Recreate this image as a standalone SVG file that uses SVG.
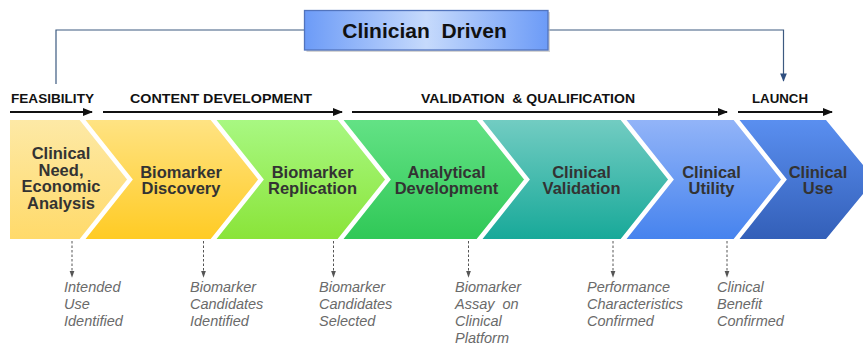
<svg xmlns="http://www.w3.org/2000/svg" width="863" height="346" viewBox="0 0 863 346">
<defs>
<style>
.phase{font-family:"Liberation Sans",Arial,sans-serif;font-weight:bold;font-size:13.5px;fill:#111}
.chev{font-family:"Liberation Sans",Arial,sans-serif;font-weight:bold;font-size:16.5px;fill:#333;text-anchor:middle}
.out{font-family:"Liberation Sans",Arial,sans-serif;font-style:italic;font-size:14.5px;fill:#6a6a6a}
.sep{fill:none;stroke:#fff;stroke-width:4.5;stroke-linejoin:miter}
.bracket{fill:none;stroke:#3d5a80;stroke-width:1.2}
.phasearrow{fill:none;stroke:#111;stroke-width:2;marker-end:url(#blk)}
.dash{fill:none;stroke:#555;stroke-width:1;stroke-dasharray:2.5,2;marker-end:url(#gry)}
</style>
<marker id="blk" viewBox="0 0 10 10" refX="9" refY="5" markerWidth="5" markerHeight="5" markerUnits="strokeWidth" orient="auto"><path d="M0,1 L10,5 L0,9 z" fill="#111"/></marker>
<marker id="gry" viewBox="0 0 10 10" refX="9" refY="5" markerWidth="7" markerHeight="7" markerUnits="strokeWidth" orient="auto"><path d="M0,1.5 L10,5 L0,8.5 z" fill="#555"/></marker>
<marker id="blu" viewBox="0 0 10 10" refX="9" refY="5" markerWidth="7" markerHeight="7" markerUnits="strokeWidth" orient="auto"><path d="M0,1 L10,5 L0,9 z" fill="#2f4f80"/></marker>
<linearGradient id="g1" x1="0" y1="0" x2="0" y2="1"><stop offset="0" stop-color="#fde9a6"/><stop offset="1" stop-color="#ffda6a"/></linearGradient>
<linearGradient id="g2" x1="0" y1="0" x2="0" y2="1"><stop offset="0" stop-color="#ffe383"/><stop offset="1" stop-color="#ffcb24"/></linearGradient>
<linearGradient id="g3" x1="0" y1="0" x2="0" y2="1"><stop offset="0" stop-color="#a8f882"/><stop offset="1" stop-color="#8ae439"/></linearGradient>
<linearGradient id="g4" x1="0" y1="0" x2="0" y2="1"><stop offset="0" stop-color="#63e285"/><stop offset="1" stop-color="#30c857"/></linearGradient>
<linearGradient id="g5" x1="0" y1="0" x2="0" y2="1"><stop offset="0" stop-color="#72ccc2"/><stop offset="1" stop-color="#18a999"/></linearGradient>
<linearGradient id="g6" x1="0" y1="0" x2="0" y2="1"><stop offset="0" stop-color="#92b4f8"/><stop offset="1" stop-color="#4683ee"/></linearGradient>
<linearGradient id="g7" x1="0" y1="0" x2="0" y2="1"><stop offset="0" stop-color="#5a8ff0"/><stop offset="1" stop-color="#335fb8"/></linearGradient>
<linearGradient id="gt" x1="0" y1="0" x2="1" y2="0"><stop offset="0" stop-color="#6c9bf7"/><stop offset="0.5" stop-color="#c6dafc"/><stop offset="1" stop-color="#6c9bf7"/></linearGradient>
</defs>
<rect width="863" height="346" fill="#fff"/>

<g id="connectors">
<polyline class="bracket" points="304,30 56,30 56,84"/>
<polyline class="bracket" points="548,30 783.5,30 783.5,81" marker-end="url(#blu)"/>
<line class="phasearrow" x1="10" y1="112" x2="92" y2="112"/>
<line class="phasearrow" x1="103" y1="112" x2="342" y2="112"/>
<line class="phasearrow" x1="352" y1="112" x2="727" y2="112"/>
<line class="phasearrow" x1="738" y1="112" x2="832" y2="112"/>
<line class="dash" x1="72" y1="241" x2="72" y2="277"/>
<line class="dash" x1="203.5" y1="241" x2="203.5" y2="277"/>
<line class="dash" x1="333.5" y1="241" x2="333.5" y2="277"/>
<line class="dash" x1="468.5" y1="241" x2="468.5" y2="277"/>
<line class="dash" x1="613" y1="241" x2="613" y2="277"/>
<line class="dash" x1="727" y1="241" x2="727" y2="277"/>
</g>

<g id="title">
<rect x="306.5" y="12" width="243.5" height="40" fill="#b8b8b8" opacity="0.6"/>
<rect x="304.5" y="10.5" width="243.5" height="39.5" fill="url(#gt)" stroke="#5274bd" stroke-width="1.3"/>
<text x="424.5" y="38" text-anchor="middle" xml:space="preserve" font-family="'Liberation Sans',Arial,sans-serif" font-weight="bold" font-size="21" fill="#111">Clinician  Driven</text>
</g>

<g id="phases">
<text class="phase" x="11" y="103" textLength="83" lengthAdjust="spacingAndGlyphs">FEASIBILITY</text>
<text class="phase" x="130" y="103" textLength="182" lengthAdjust="spacingAndGlyphs">CONTENT DEVELOPMENT</text>
<text class="phase" x="421" y="103" xml:space="preserve" textLength="214" lengthAdjust="spacingAndGlyphs">VALIDATION  &amp; QUALIFICATION</text>
<text class="phase" x="752" y="103" textLength="56" lengthAdjust="spacingAndGlyphs">LAUNCH</text>
</g>

<g id="chevron-1">
<polygon points="10,120 81,120 130,179.5 81,239 10,239" fill="url(#g1)"/>
</g>
<g id="chevron-2">
<polygon points="81,120 212,120 261,179.5 212,239 81,239 130,179.5" fill="url(#g2)"/>
</g>
<g id="chevron-3">
<polygon points="212,120 339,120 388,179.5 339,239 212,239 261,179.5" fill="url(#g3)"/>
</g>
<g id="chevron-4">
<polygon points="339,120 478,120 527,179.5 478,239 339,239 388,179.5" fill="url(#g4)"/>
</g>
<g id="chevron-5">
<polygon points="478,120 622,120 671,179.5 622,239 478,239 527,179.5" fill="url(#g5)"/>
</g>
<g id="chevron-6">
<polygon points="622,120 735,120 784,179.5 735,239 622,239 671,179.5" fill="url(#g6)"/>
</g>
<g id="chevron-7">
<polygon points="735,120 826,120 875,179.5 826,239 735,239 784,179.5" fill="url(#g7)"/>
</g>
<g id="separators">
<polyline class="sep" points="81,118 130,179.5 81,241"/>
<polyline class="sep" points="212,118 261,179.5 212,241"/>
<polyline class="sep" points="339,118 388,179.5 339,241"/>
<polyline class="sep" points="478,118 527,179.5 478,241"/>
<polyline class="sep" points="622,118 671,179.5 622,241"/>
<polyline class="sep" points="735,118 784,179.5 735,241"/>
</g>

<g id="chevron-labels">
<text class="chev" x="61" y="159">Clinical</text>
<text class="chev" x="61" y="175.7">Need,</text>
<text class="chev" x="61" y="192.4">Economic</text>
<text class="chev" x="61" y="209.1">Analysis</text>
<text class="chev" x="181" y="177.5">Biomarker</text>
<text class="chev" x="181" y="194.2">Discovery</text>
<text class="chev" x="312.5" y="177.5">Biomarker</text>
<text class="chev" x="312.5" y="194.2">Replication</text>
<text class="chev" x="446.5" y="177.5">Analytical</text>
<text class="chev" x="446.5" y="194.2">Development</text>
<text class="chev" x="581.5" y="177.5">Clinical</text>
<text class="chev" x="581.5" y="194.2">Validation</text>
<text class="chev" x="711.5" y="177.5">Clinical</text>
<text class="chev" x="711.5" y="194.2">Utility</text>
<text class="chev" x="818" y="177.5">Clinical</text>
<text class="chev" x="818" y="194.2">Use</text>
</g>

<g id="outcome-1">
<text class="out" x="64" y="291.5">Intended</text>
<text class="out" x="64" y="308.7">Use</text>
<text class="out" x="64" y="325.9">Identified</text>
</g>
<g id="outcome-2">
<text class="out" x="190" y="291.5">Biomarker</text>
<text class="out" x="190" y="308.7">Candidates</text>
<text class="out" x="190" y="325.9">Identified</text>
</g>
<g id="outcome-3">
<text class="out" x="319" y="291.5">Biomarker</text>
<text class="out" x="319" y="308.7">Candidates</text>
<text class="out" x="319" y="325.9">Selected</text>
</g>
<g id="outcome-4">
<text class="out" x="455" y="291.5">Biomarker</text>
<text class="out" x="455" y="308.7" xml:space="preserve">Assay  on</text>
<text class="out" x="455" y="325.9">Clinical</text>
<text class="out" x="455" y="343.1">Platform</text>
</g>
<g id="outcome-5">
<text class="out" x="587" y="291.5">Performance</text>
<text class="out" x="587" y="308.7">Characteristics</text>
<text class="out" x="587" y="325.9">Confirmed</text>
</g>
<g id="outcome-6">
<text class="out" x="717" y="291.5">Clinical</text>
<text class="out" x="717" y="308.7">Benefit</text>
<text class="out" x="717" y="325.9">Confirmed</text>
</g>
</svg>
